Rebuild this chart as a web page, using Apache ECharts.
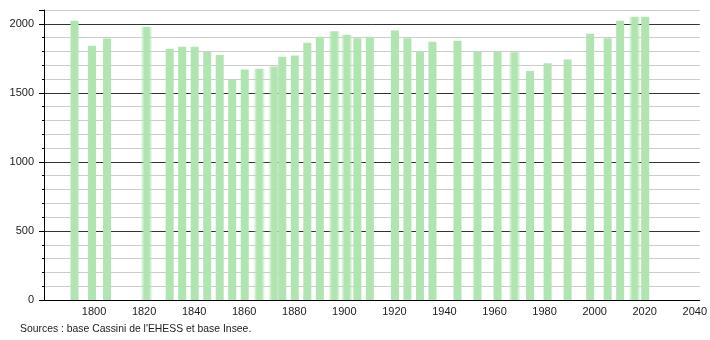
<!DOCTYPE html>
<html>
<head>
<meta charset="utf-8">
<script src="https://cdn.jsdelivr.net/npm/echarts@6/dist/echarts.min.js"></script>
<style>
  html, body { margin: 0; padding: 0; background: #fff; }
  #chart { width: 710px; height: 340px; }
</style>
</head>
<body>
<div id="chart"></div>
<script>
// années de recensement et population
const years = [1793, 1800, 1806, 1821, 1831, 1836, 1841, 1846, 1851, 1856, 1861, 1866, 1872, 1876, 1881, 1886, 1891, 1896, 1901, 1906, 1911, 1921, 1926, 1931, 1936, 1946, 1954, 1962, 1968, 1975, 1982, 1990, 1999, 2006, 2011, 2016, 2021];
const population = [2022, 1841, 1894, 1978, 1819, 1833, 1833, 1797, 1775, 1594, 1669, 1674, 1691, 1761, 1771, 1862, 1906, 1947, 1920, 1896, 1906, 1951, 1896, 1804, 1870, 1877, 1797, 1797, 1794, 1659, 1715, 1741, 1928, 1896, 2022, 2051, 2051];
// barres dessinées avec un bord flou
const softYears = [1821, 1866, 1872, 1896, 1901, 1968, 2016];
const yLabels = [0, 500, 1000, 1500, 2000];
const sourceText = "Sources : base Cassini de l'EHESS et base Insee.";

const green = '#b0e4b0';
const solidData = [];
const softData = [];
years.forEach((y, i) => {
  if (softYears.includes(y)) softData.push([y, population[i]]);
  else solidData.push([y, population[i]]);
});

const chart = echarts.init(document.getElementById('chart'));
chart.setOption({
  animation: false,
  grid: { left: 44, right: 10, top: 10, bottom: 40, containLabel: false },
  xAxis: {
    type: 'value', min: 1780, max: 2042, interval: 20,
    axisLine: { show: true, lineStyle: { color: '#000', width: 1 } },
    axisTick: { show: false },
    splitLine: { show: false },
    axisLabel: {
      color: '#222', fontSize: 11, fontFamily: 'Liberation Sans', margin: 6,
      showMaxLabel: false,
      formatter: v => (v > 1780 && v % 20 === 0) ? String(v) : ''
    }
  },
  yAxis: [
    {
      type: 'value', min: 0, max: 2100, interval: 100,
      axisLine: { show: true, lineStyle: { color: '#000' } },
      axisTick: { show: true, length: 2, lineStyle: { color: '#000' } },
      axisLabel: {
        color: '#222', fontSize: 11, fontFamily: 'Liberation Sans', margin: 10,
        formatter: v => yLabels.includes(v) ? String(v) : ''
      },
      splitLine: {
        show: true,
        lineStyle: { color: ['#333', '#cccccc', '#cccccc', '#cccccc', '#cccccc'], width: 1 }
      }
    },
    {
      // graduations principales (tous les 500), même échelle que l'axe principal
      type: 'value', min: 0, max: 2100, interval: 500, position: 'left',
      axisLine: { show: false },
      axisTick: { show: true, length: 5, lineStyle: { color: '#000' } },
      axisLabel: { show: false },
      splitLine: { show: false }
    }
  ],
  series: [
    {
      type: 'bar', data: solidData, barWidth: 8, barGap: '-100%',
      itemStyle: { color: green }, z: 3
    },
    {
      type: 'bar', data: softData, barWidth: 12, barGap: '-100%',
      itemStyle: {
        color: new echarts.graphic.LinearGradient(0, 0, 1, 0, [
          { offset: 0, color: 'rgba(176, 228, 176, 0)' },
          { offset: 0.3, color: 'rgba(176, 228, 176, 1)' },
          { offset: 0.7, color: 'rgba(176, 228, 176, 1)' },
          { offset: 1, color: 'rgba(176, 228, 176, 0)' }
        ])
      },
      z: 3
    }
  ],
  graphic: [
    {
      type: 'text', left: 20, top: 324,
      style: { text: sourceText, fill: '#222', fontSize: 10.4, fontFamily: 'Liberation Sans' }
    }
  ]
});
</script>
</body>
</html>
